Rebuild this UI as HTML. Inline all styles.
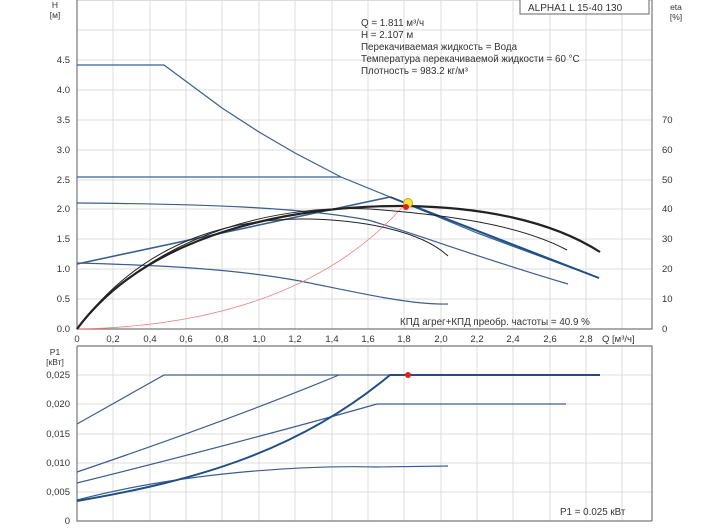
<!DOCTYPE html>
<html><head><meta charset="utf-8"><style>
html,body{margin:0;padding:0;background:#fff;}
svg{display:block;font-family:"Liberation Sans",sans-serif;}
</style></head><body>
<svg width="704" height="528" viewBox="0 0 704 528" xmlns="http://www.w3.org/2000/svg">
<g stroke="#dcdcdc" stroke-width="1">
<line x1="77" y1="0.5" x2="652" y2="0.5"/><line x1="77" y1="30" x2="652" y2="30"/><line x1="77" y1="60" x2="652" y2="60"/><line x1="77" y1="90" x2="652" y2="90"/><line x1="77" y1="120" x2="652" y2="120"/><line x1="77" y1="150" x2="652" y2="150"/><line x1="77" y1="180" x2="652" y2="180"/><line x1="77" y1="209" x2="652" y2="209"/><line x1="77" y1="239" x2="652" y2="239"/><line x1="77" y1="269" x2="652" y2="269"/><line x1="77" y1="299" x2="652" y2="299"/>
<line x1="77" y1="346" x2="652" y2="346"/><line x1="77" y1="375" x2="652" y2="375"/><line x1="77" y1="404" x2="652" y2="404"/><line x1="77" y1="434" x2="652" y2="434"/><line x1="77" y1="463" x2="652" y2="463"/><line x1="77" y1="492" x2="652" y2="492"/>
</g>
<g stroke="#dcdcdc" stroke-width="1">
<path d="M113 0V329M150 0V329M186 0V329M222 0V329M259 0V329M295 0V329M332 0V329M368 0V329M404 0V329M441 0V329M477 0V329M513 0V329M550 0V329M586 0V329M622 0V329"/>
<path d="M113 346V521M150 346V521M186 346V521M222 346V521M259 346V521M295 346V521M332 346V521M368 346V521M404 346V521M441 346V521M477 346V521M513 346V521M550 346V521M586 346V521M622 346V521"/>
</g>
<g stroke="#777" stroke-width="1.2" fill="none">
<path d="M77 0V329H652V0"/><path d="M77 346H652V521M77 346V521H652"/>
</g>
<g font-size="9.5" fill="#333" text-anchor="end">
<text x="70" y="63">4.5</text><text x="70" y="93">4.0</text><text x="70" y="123">3.5</text><text x="70" y="153">3.0</text><text x="70" y="183">2.5</text><text x="70" y="212">2.0</text><text x="70" y="242">1.5</text><text x="70" y="272">1.0</text><text x="70" y="302">0.5</text><text x="70" y="332">0.0</text>
<text x="70" y="378">0,025</text><text x="70" y="407">0,020</text><text x="70" y="437">0,015</text><text x="70" y="466">0,010</text><text x="70" y="495">0,005</text><text x="70" y="524">0</text>
</g>
<g font-size="9.5" fill="#333" text-anchor="start">
<text x="662" y="123">70</text><text x="662" y="153">60</text><text x="662" y="183">50</text><text x="662" y="212">40</text><text x="662" y="242">30</text><text x="662" y="272">20</text><text x="662" y="302">10</text><text x="662" y="332">0</text>
</g>
<g font-size="9.5" fill="#333" text-anchor="middle">
<text x="77" y="342">0</text><text x="113" y="342">0,2</text><text x="150" y="342">0,4</text><text x="186" y="342">0,6</text><text x="222" y="342">0,8</text><text x="259" y="342">1,0</text><text x="295" y="342">1,2</text><text x="332" y="342">1,4</text><text x="368" y="342">1,6</text><text x="404" y="342">1,8</text><text x="441" y="342">2,0</text><text x="477" y="342">2,2</text><text x="513" y="342">2,4</text><text x="550" y="342">2,6</text><text x="586" y="342">2,8</text>
</g>
<text x="602" y="342" font-size="9.5" fill="#333">Q [м³/ч]</text>
<g font-size="8.5" fill="#333" text-anchor="middle">
<text x="55" y="8">H</text><text x="55" y="18">[м]</text>
<text x="676" y="10">eta</text><text x="676" y="20">[%]</text>
<text x="55" y="355">P1</text><text x="55" y="365">[кВт]</text>
</g>
<rect x="520" y="-1" width="129" height="15" fill="#fff" stroke="#666"/>
<text x="528" y="11" font-size="10" fill="#333">ALPHA1 L 15-40 130</text>
<g font-size="9.8" fill="#333">
<text x="361" y="26">Q = 1.811 м³/ч</text><text x="361" y="38">H = 2.107 м</text><text x="361" y="50">Перекачиваемая жидкость = Вода</text><text x="361" y="62">Температура перекачиваемой жидкости = 60 °C</text><text x="361" y="74">Плотность = 983.2 кг/м³</text>
<text x="400" y="325">КПД агрег+КПД преобр. частоты = 40.9 %</text>
<text x="560" y="515">P1 = 0.025 кВт</text>
</g>
<g fill="none" stroke="#3a5f8f" stroke-width="1.2">
<path d="M77 65H164L222 108L259 132L295 153L341 177L390 197L477 233L599 278"/>
<path d="M77 177H341"/>
<path d="M77 203C200 204 300 207 368 220C420 235 470 255 568 284"/>
<path d="M77 263C150 265 230 268 300 281C360 293 410 305 448 304"/>
<path d="M77 264L390 197" stroke-width="1.6"/>
<path d="M77 424L164 375H600"/>
<path d="M77 472Q230 420 339 375"/>
<path d="M77 483Q250 440 377 404H566"/>
<path d="M77 500C180 473 300 465 377 467L448 466"/>
</g>
<g fill="none" stroke="#1f4f86" stroke-width="2">
<path d="M77 501C200 480 300 450 390 375H600"/>
<path d="M390 197L599 278"/>
</g>
<path d="M77 329Q300 325 406 203" fill="none" stroke="#f08080" stroke-width="0.8"/>
<g fill="none" stroke="#222">
<path d="M77 329C150 230 250 218 308 219C360 220 420 230 448 256" stroke-width="1"/>
<path d="M77 329C160 225 290 205 370 209C450 215 520 225 567 250" stroke-width="1"/>
<path d="M77 329C150 230 300 205 406 206C480 207 550 220 600 252" stroke-width="2.2"/>
</g>
<circle cx="408" cy="203" r="4.5" fill="#f5e04a" stroke="#c8a800"/>
<circle cx="406" cy="207" r="3" fill="#e02020"/>
<circle cx="408" cy="375" r="3" fill="#e02020"/>
</svg>
</body></html>
